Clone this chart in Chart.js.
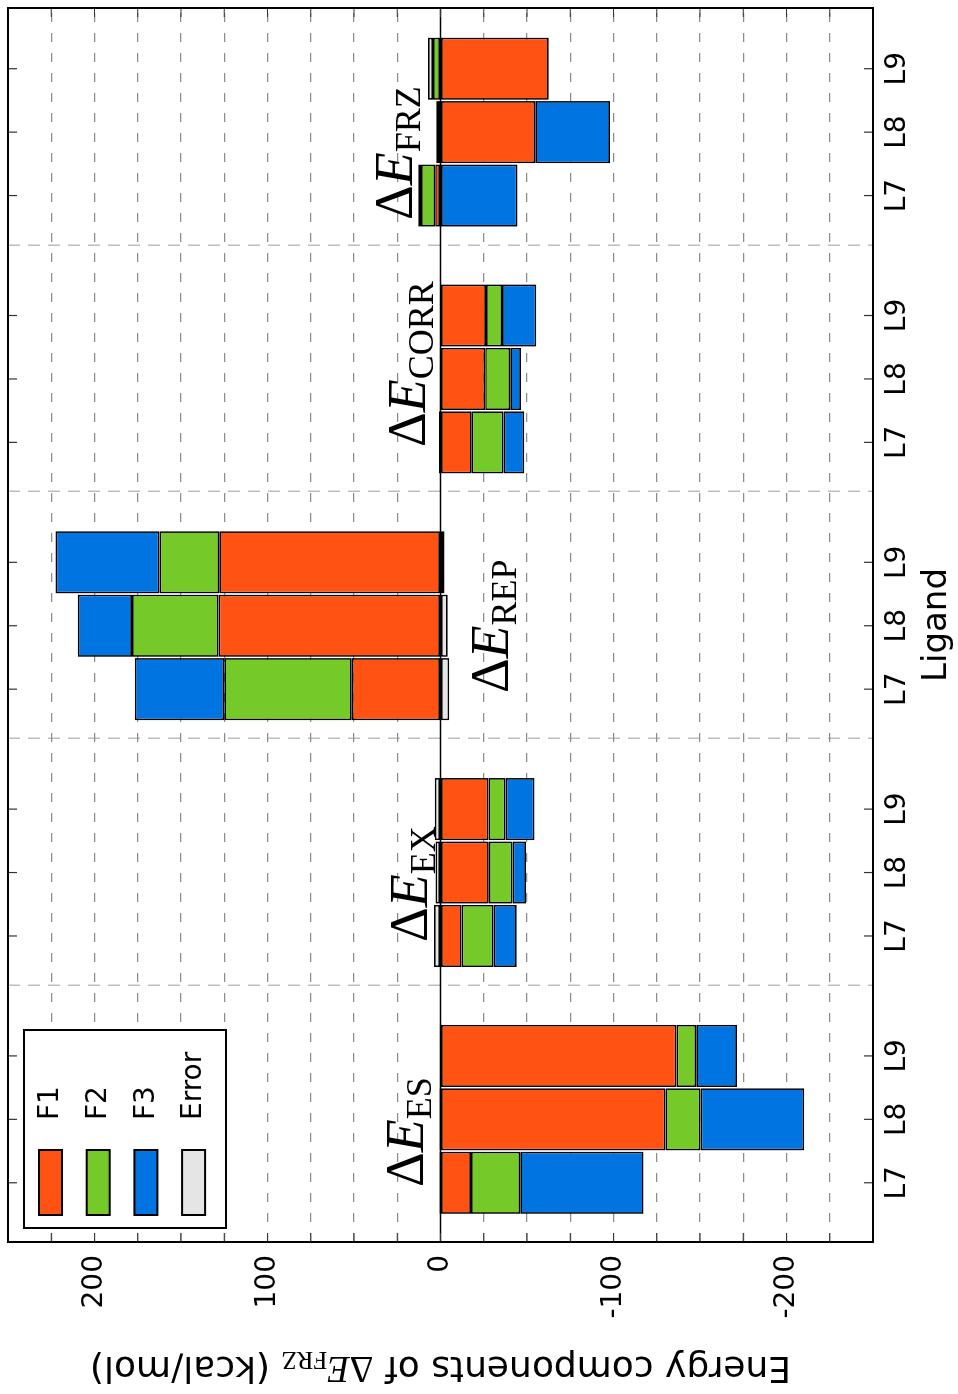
<!DOCTYPE html>
<html>
<head>
<meta charset="utf-8">
<script src="https://cdn.jsdelivr.net/npm/chart.js@4/dist/chart.umd.min.js"></script>
<style>
html, body { margin: 0; padding: 0; background: #fff; overflow: hidden; }
/* the figure is drawn upright, then turned a quarter turn to the left */
#wrap { position: absolute; left: 0; top: 0; width: 1394px; height: 958px;
        transform-origin: 0 0; transform: translate(0, 1394px) rotate(-90deg); }
</style>
</head>
<body>
<div id="wrap"><canvas id="chart" width="1394" height="958"></canvas></div>
<script>
const groups = ['ES', 'EX', 'REP', 'CORR', 'FRZ'];
const ligands = ['L7', 'L8', 'L9'];
const seriesNames = ['F1', 'F2', 'F3', 'Error'];
const valueLabels = [-200, -100, 0, 100, 200];

// kcal/mol, ordered ES L7 L8 L9, EX L7 L8 L9, REP ..., CORR ..., FRZ ...
const f1 = [-17.6, -130.0, -136.4,  -12.2, -27.9, -27.7,  51.3, 128.3, 127.9,  -18.0, -25.8, -26.3,   3.1, -54.8, -62.6];
const f2 = [-28.5,  -20.3,  -11.4,  -18.4, -13.7,  -9.9,  73.7,  50.0,  34.5,  -18.4, -14.5,  -9.3,   8.1,   1.5,   4.3];
const f3 = [-71.3,  -60.0,  -23.6,  -13.5,  -7.8, -16.7,  51.7,  31.4,  60.1,  -12.0,  -6.2, -19.8, -44.5, -43.2,   0];
const err = [ 0.6,    0.6,    0.4,    3.7,   2.9,   3.3,  -5.0,  -4.2,  -2.3,    0.8,   0.5,   0,     1.7,   1.0,   2.9];

// where the ΔE labels sit (group units, kcal/mol)
const noteX = [0.183, 1.176, 2.184, 3.181, 4.101];
const noteY = [10.1, 7.8, -39, 9, 16.5];

const colors = ['#ff5213', '#75c929', '#0075e1', '#e5e5e5'];
const X_MIN = -0.04, X_MAX = 4.96;

const barX = [];
groups.forEach((g, gi) => ligands.forEach((l, li) => barX.push(gi + 0.2 + 0.257 * li)));

const series = [f1, f2, f3, err];
const datasets = series.map((vals, k) => ({
    label: seriesNames[k],
    data: vals.map((v, i) => ({x: barX[i], y: v})),
    backgroundColor: colors[k],
    borderColor: '#000',
    borderWidth: 1.7,
    borderSkipped: false,
    stack: 'all',
    categoryPercentage: 1,
    barPercentage: 0.98
}));

const SANS = 'DejaVu Sans';
const SERIF = 'Liberation Serif';

const drawRuns = (ctx, runs, x, y, align) => {
    let w = 0;
    runs.forEach(r => { ctx.font = r.font; w += ctx.measureText(r.text).width; });
    let cx = align === 'center' ? x - w / 2 : x;
    ctx.textAlign = 'left';
    ctx.textBaseline = 'alphabetic';
    runs.forEach(r => {
        ctx.font = r.font;
        ctx.fillText(r.text, cx, y + (r.dy || 0));
        cx += ctx.measureText(r.text).width;
    });
};

const deltaE = (sub, size, subSize, drop) => [
    {text: 'Δ', font: `${size}px ${SERIF}`},
    {text: 'E', font: `italic ${size}px ${SERIF}`},
    {text: sub, font: `${subSize}px ${SERIF}`, dy: drop}
];

const decor = {
    id: 'decor',
    afterDraw(chart) {
        const {ctx, chartArea: a, scales: {x, y}} = chart;
        ctx.save();
        ctx.fillStyle = '#000';

        // zero line
        const y0 = y.getPixelForValue(0);
        ctx.strokeStyle = '#000';
        ctx.lineWidth = 1.5;
        ctx.beginPath(); ctx.moveTo(a.left, y0); ctx.lineTo(a.right, y0); ctx.stroke();

        // inward tick marks on all four sides
        ctx.lineWidth = 1.2;
        ctx.strokeStyle = '#333';
        ctx.beginPath();
        y.ticks.forEach(t => {
            const p = y.getPixelForValue(t.value);
            ctx.moveTo(a.left, p); ctx.lineTo(a.left + 9, p);
            ctx.moveTo(a.right, p); ctx.lineTo(a.right - 9, p);
        });
        barX.forEach(v => {
            const p = x.getPixelForValue(v);
            ctx.moveTo(p, a.bottom); ctx.lineTo(p, a.bottom - 9);
            ctx.moveTo(p, a.top); ctx.lineTo(p, a.top + 9);
        });
        ctx.stroke();

        // frame
        ctx.strokeStyle = '#000';
        ctx.lineWidth = 2;
        ctx.strokeRect(a.left, a.top, a.right - a.left, a.bottom - a.top);

        // ΔE labels
        groups.forEach((g, i) => {
            drawRuns(ctx, deltaE(g, 54, 36, 8), x.getPixelForValue(noteX[i]), y.getPixelForValue(noteY[i]), 'left');
        });

        // legend
        const lx = a.left + 14, ly = a.top + 16;
        ctx.fillStyle = '#fff';
        ctx.fillRect(lx, ly, 198, 202);
        ctx.strokeStyle = '#000';
        ctx.lineWidth = 2;
        ctx.strokeRect(lx, ly, 198, 202);
        chart.data.datasets.forEach((ds, i) => {
            const ry = ly + 15 + i * 47.7;
            ctx.fillStyle = ds.backgroundColor;
            ctx.fillRect(lx + 13, ry, 65, 23);
            ctx.strokeRect(lx + 13, ry, 65, 23);
            ctx.fillStyle = '#000';
            ctx.font = `28px ${SANS}`;
            ctx.textAlign = 'left';
            ctx.textBaseline = 'middle';
            ctx.fillText(ds.label, lx + 108, ry + 12);
        });

        // axis titles
        ctx.fillStyle = '#000';
        drawRuns(ctx, [{text: 'Ligand', font: `34px ${SANS}`}], (a.left + a.right) / 2, 946, 'center');
        ctx.translate(37, (a.top + a.bottom) / 2);
        ctx.rotate(-Math.PI / 2);
        drawRuns(ctx, [
            {text: 'Energy components of ', font: `36px ${SANS}`},
            ...deltaE('FRZ', 37, 25, 5),
            {text: ' (kcal/mol)', font: `36px ${SANS}`}
        ], 0, 0, 'center');
        ctx.restore();
    }
};

Chart.defaults.font.family = SANS;
Chart.defaults.color = '#000';

new Chart(document.getElementById('chart').getContext('2d'), {
    type: 'bar',
    data: {datasets},
    plugins: [decor],
    options: {
        responsive: false,
        animation: false,
        devicePixelRatio: 1,
        layout: {padding: {left: 0, right: 8, top: 8, bottom: 0}},
        plugins: {legend: {display: false}, tooltip: {enabled: false}},
        scales: {
            x: {
                type: 'linear', min: X_MIN, max: X_MAX, offset: false, stacked: true,
                afterBuildTicks: s => { s.ticks = barX.map(v => ({value: v})); },
                ticks: {
                    autoSkip: false, maxRotation: 0, minRotation: 0, padding: 0,
                    font: {size: 28},
                    callback: (v, i) => ligands[i % ligands.length]
                },
                grid: {display: false, offset: false},
                border: {display: false},
                afterFit: s => { s.height = 85; s.paddingLeft = 0; s.paddingRight = 0; }
            },
            sep: {
                type: 'linear', position: 'bottom', min: X_MIN, max: X_MAX, offset: false,
                afterBuildTicks: s => { s.ticks = [1, 2, 3, 4].map(v => ({value: v})); },
                ticks: {display: false},
                grid: {color: '#bdbdbd', lineWidth: 1.5, drawTicks: false, offset: false},
                border: {display: false, dash: [12, 8]},
                afterFit: s => { s.height = 0; s.paddingLeft = 0; s.paddingRight = 0; }
            },
            y: {
                type: 'linear', min: -250, max: 250, stacked: true,
                afterBuildTicks: s => {
                    const t = [];
                    for (let v = -250; v <= 250; v += 25) t.push({value: v});
                    s.ticks = t;
                },
                ticks: {
                    autoSkip: false, padding: 13, font: {size: 28},
                    callback: v => valueLabels.includes(v) ? String(v) : ''
                },
                grid: {
                    color: c => (c.tick && c.tick.value === 0) ? 'rgba(0,0,0,0)' : '#8c8c8c',
                    lineWidth: 1.2, drawTicks: false
                },
                border: {display: false, dash: [9, 11]},
                afterFit: s => { s.width = 152; s.paddingTop = 0; s.paddingBottom = 0; }
            }
        }
    }
});
</script>
</body>
</html>
